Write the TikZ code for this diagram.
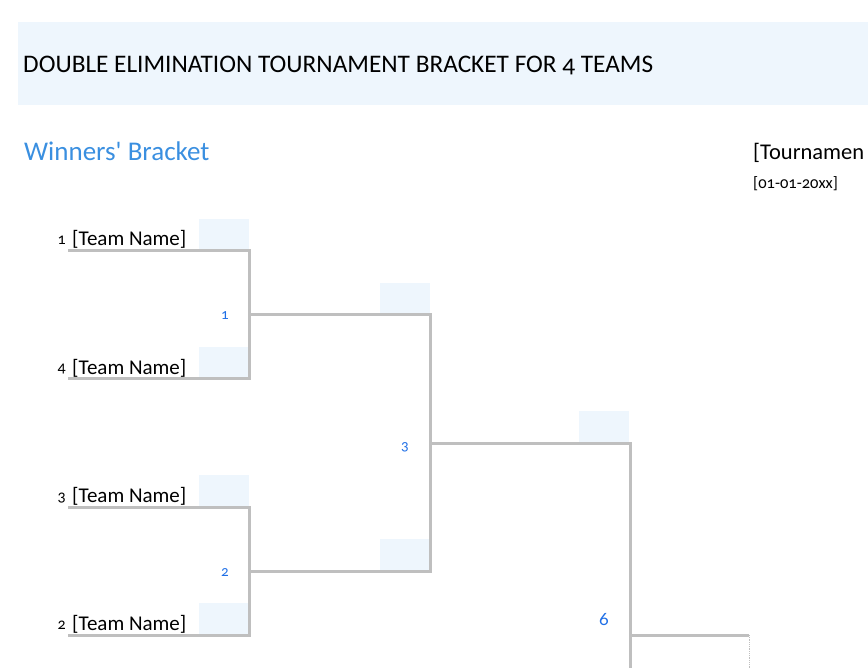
\documentclass[tikz,border=0pt]{standalone}
\usepackage{fontspec}
\setmainfont{Carlito}[Numbers=OldStyle]
\usetikzlibrary{positioning}
\definecolor{bandblue}{RGB}{238,246,253}
\definecolor{linegray}{RGB}{191,191,191}
\definecolor{headblue}{RGB}{58,143,224}
\definecolor{matchblue}{RGB}{31,111,230}

\begin{document}
\begin{tikzpicture}[x=1pt,y=-1pt,
    bracket/.style={linegray,line width=3pt},
    scorebox/.style={fill=bandblue},
    team/.style={anchor=base west,inner sep=0pt,font=\fontsize{21}{21}\selectfont},
    seed/.style={anchor=base east,inner sep=0pt,font=\fontsize{16}{16}\selectfont},
    matchno/.style={matchblue,inner sep=0pt,font=\fontsize{15}{15}\selectfont}]
  \useasboundingbox (0,0) rectangle (868,668);
  % header
  \fill[bandblue] (18,22) rectangle (868,105);
  \node[anchor=base west,inner sep=0pt,font=\fontsize{25.3}{25}\selectfont] (title) at (23,73)
    {DOUBLE ELIMINATION TOURNAMENT BRACKET FOR 4 TEAMS};
  \node[anchor=base west,inner sep=0pt,headblue,font=\fontsize{27}{27}\selectfont] (wb) at (24,161) {Winners\textquotesingle{} Bracket};
  \node[anchor=base west,inner sep=0pt,font=\fontsize{22.5}{22}\selectfont] (tname) at (753,160) {[Tournamen};
  \node[anchor=base west,inner sep=0pt,font=\fontsize{16.5}{16}\selectfont] (tdate) at (753,189) {[01-01-20xx]};
  % score boxes
  \foreach \x/\y in {199/219,199/347,199/475,199/603,380/283,380/539,579/411}
    \fill[scorebox] (\x,\y) rectangle ++(50,31);
  % first round
  \foreach \s/\y [count=\i] in {1/251,4/379,3/507,2/635}{
    \coordinate (l\i) at (68,\y);
    \coordinate (r\i) at (249,\y);
    \node[team] (t\i) at (72,\y-5) {[Team Name]};
    \node[seed] (s\i) at (66,\y-6) {\s};
  }
  \coordinate (m1) at (249,315);
  \coordinate (m1r) at (430,315);
  \coordinate (m2) at (249,571);
  \coordinate (m2r) at (430,571);
  \coordinate (m3) at (430,443);
  \coordinate (m3r) at (630,443);
  \coordinate (m3b) at (630,668);
  \coordinate (m6) at (630,635);
  \coordinate (m6r) at (749,635);
  \coordinate (m6b) at (749,668);
  \draw[bracket] (l1) -- (r1) -- (r2) -- (l2);
  \draw[bracket] (l3) -- (r3) -- (r4) -- (l4);
  \draw[bracket] (m1) -- (m1r) -- (m2r) -- (m2);
  \draw[bracket] (m3) -- (m3r) -- (m3b);
  \draw[bracket] (m6) -- (m6r);
  \draw[linegray,densely dotted,line width=0.8pt] (m6r) -- (m6b);
  % match numbers
  \node[matchno] (n1) at (225,316) {1};
  \node[matchno] (n2) at (225,573) {2};
  \node[matchno] (n3) at (405,447) {3};
  \node[matchno,font=\fontsize{19}{19}\selectfont] (n6) at (604,620) {6};
\end{tikzpicture}
\end{document}
